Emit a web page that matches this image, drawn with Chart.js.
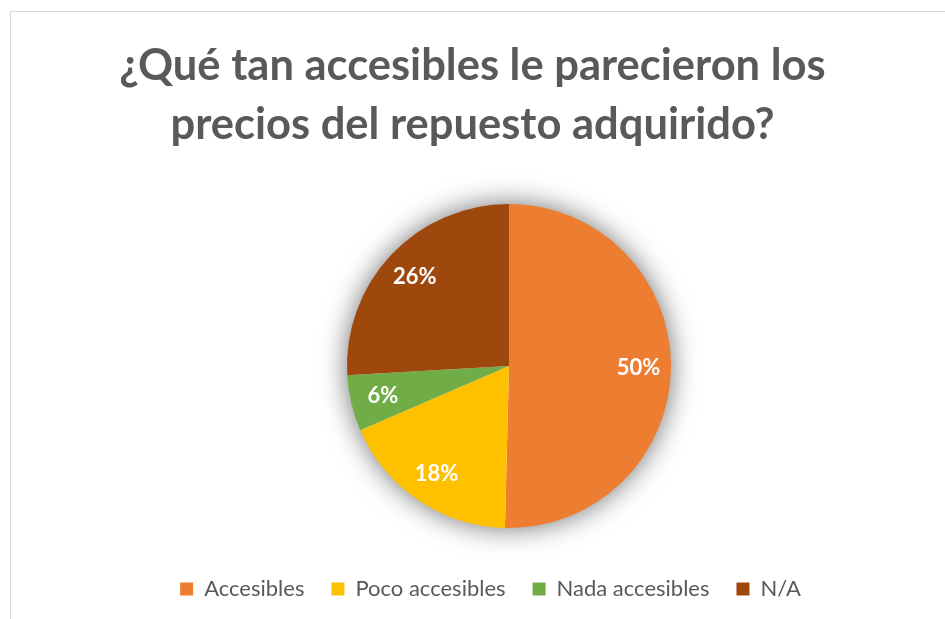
<!DOCTYPE html>
<html>
<head>
<meta charset="utf-8">
<script src="https://cdn.jsdelivr.net/npm/chart.js@4/dist/chart.umd.min.js"></script>
<style>
  html, body { margin: 0; padding: 0; background: #ffffff; }
  #wrap { position: relative; width: 945px; height: 619px; overflow: hidden; background: #fff; }
  #frame { position: absolute; left: 10px; top: 11px; width: 1000px; height: 1000px; border: 1px solid #d9d9d9; box-sizing: border-box; }
  canvas { position: absolute; left: 0; top: 0; }
</style>
</head>
<body>
<div id="wrap">
  <div id="frame"></div>
  <canvas id="c" width="945" height="619"></canvas>
</div>
<script>
const titleLines = ["¿Qué tan accesibles le parecieron los", "precios del repuesto adquirido?"];
const categories = ["Accesibles", "Poco accesibles", "Nada accesibles", "N/A"];
const values = [50.4, 18.1, 5.6, 25.9];
const colors = ["#ED7D31", "#FFC000", "#70AD47", "#9E480E"];

const FONT = "Lato, 'Open Sans', sans-serif";

const layoutPlugin = {
  id: 'layoutFix',
  afterLayout(chart) {
    const cx = 509, cy = 366, r = 162;
    chart.chartArea.left = cx - r;
    chart.chartArea.right = cx + r;
    chart.chartArea.top = cy - r;
    chart.chartArea.bottom = cy + r;
    chart.chartArea.width = 2 * r;
    chart.chartArea.height = 2 * r;
    const lg = chart.legend;
    if (lg) {
      const h = lg.bottom - lg.top;
      lg.top = 551; lg.bottom = 551 + h;
      lg.left += 18; lg.right += 18;
    }
  }
};

const shadowPlugin = {
  id: 'pieShadow',
  beforeDatasetsDraw(chart) {
    const arc = chart.getDatasetMeta(0).data[0];
    if (!arc) return;
    const { x, y, outerRadius } = arc.getProps(['x', 'y', 'outerRadius'], true);
    const ctx = chart.ctx;
    ctx.save();
    ctx.shadowColor = 'rgba(0,0,0,0.6)';
    ctx.shadowBlur = 28;
    ctx.fillStyle = '#ffffff';
    ctx.beginPath();
    ctx.arc(x, y, outerRadius - 1, 0, Math.PI * 2);
    ctx.fill();
    ctx.restore();
  }
};

const labelPlugin = {
  id: 'pctLabels',
  afterDatasetsDraw(chart) {
    const ctx = chart.ctx;
    const ds = chart.data.datasets[0].data;
    const total = ds.reduce((a, b) => a + b, 0);
    ctx.save();
    ctx.fillStyle = '#ffffff';
    ctx.font = "bold 22px " + FONT;
    ctx.textAlign = 'center';
    ctx.textBaseline = 'middle';
    chart.getDatasetMeta(0).data.forEach((arc, i) => {
      const p = arc.getProps(['x', 'y', 'startAngle', 'endAngle', 'outerRadius'], true);
      const mid = (p.startAngle + p.endAngle) / 2;
      const rr = p.outerRadius * 0.8;
      const tx = p.x + Math.cos(mid) * rr;
      const ty = p.y + Math.sin(mid) * rr;
      ctx.fillText(Math.round(ds[i] / total * 100) + '%', tx, ty);
    });
    ctx.restore();
  }
};

new Chart(document.getElementById('c'), {
  type: 'pie',
  data: {
    labels: categories,
    datasets: [{
      data: values,
      backgroundColor: colors,
      borderWidth: 0,
      hoverOffset: 0
    }]
  },
  options: {
    responsive: false,
    animation: false,
    events: [],
    layout: { padding: 0 },
    plugins: {
      title: {
        display: true,
        text: titleLines,
        color: '#595959',
        font: { family: FONT, size: 43.5, weight: 'bold', lineHeight: 59 / 43.5 },
        padding: { top: 36, bottom: 10 }
      },
      legend: {
        display: true,
        position: 'bottom',
        labels: {
          color: '#595959',
          font: { family: FONT, size: 22 },
          boxWidth: 13,
          boxHeight: 13,
          padding: 27
        }
      },
      tooltip: { enabled: false }
    }
  },
  plugins: [layoutPlugin, shadowPlugin, labelPlugin]
});
</script>
</body>
</html>
